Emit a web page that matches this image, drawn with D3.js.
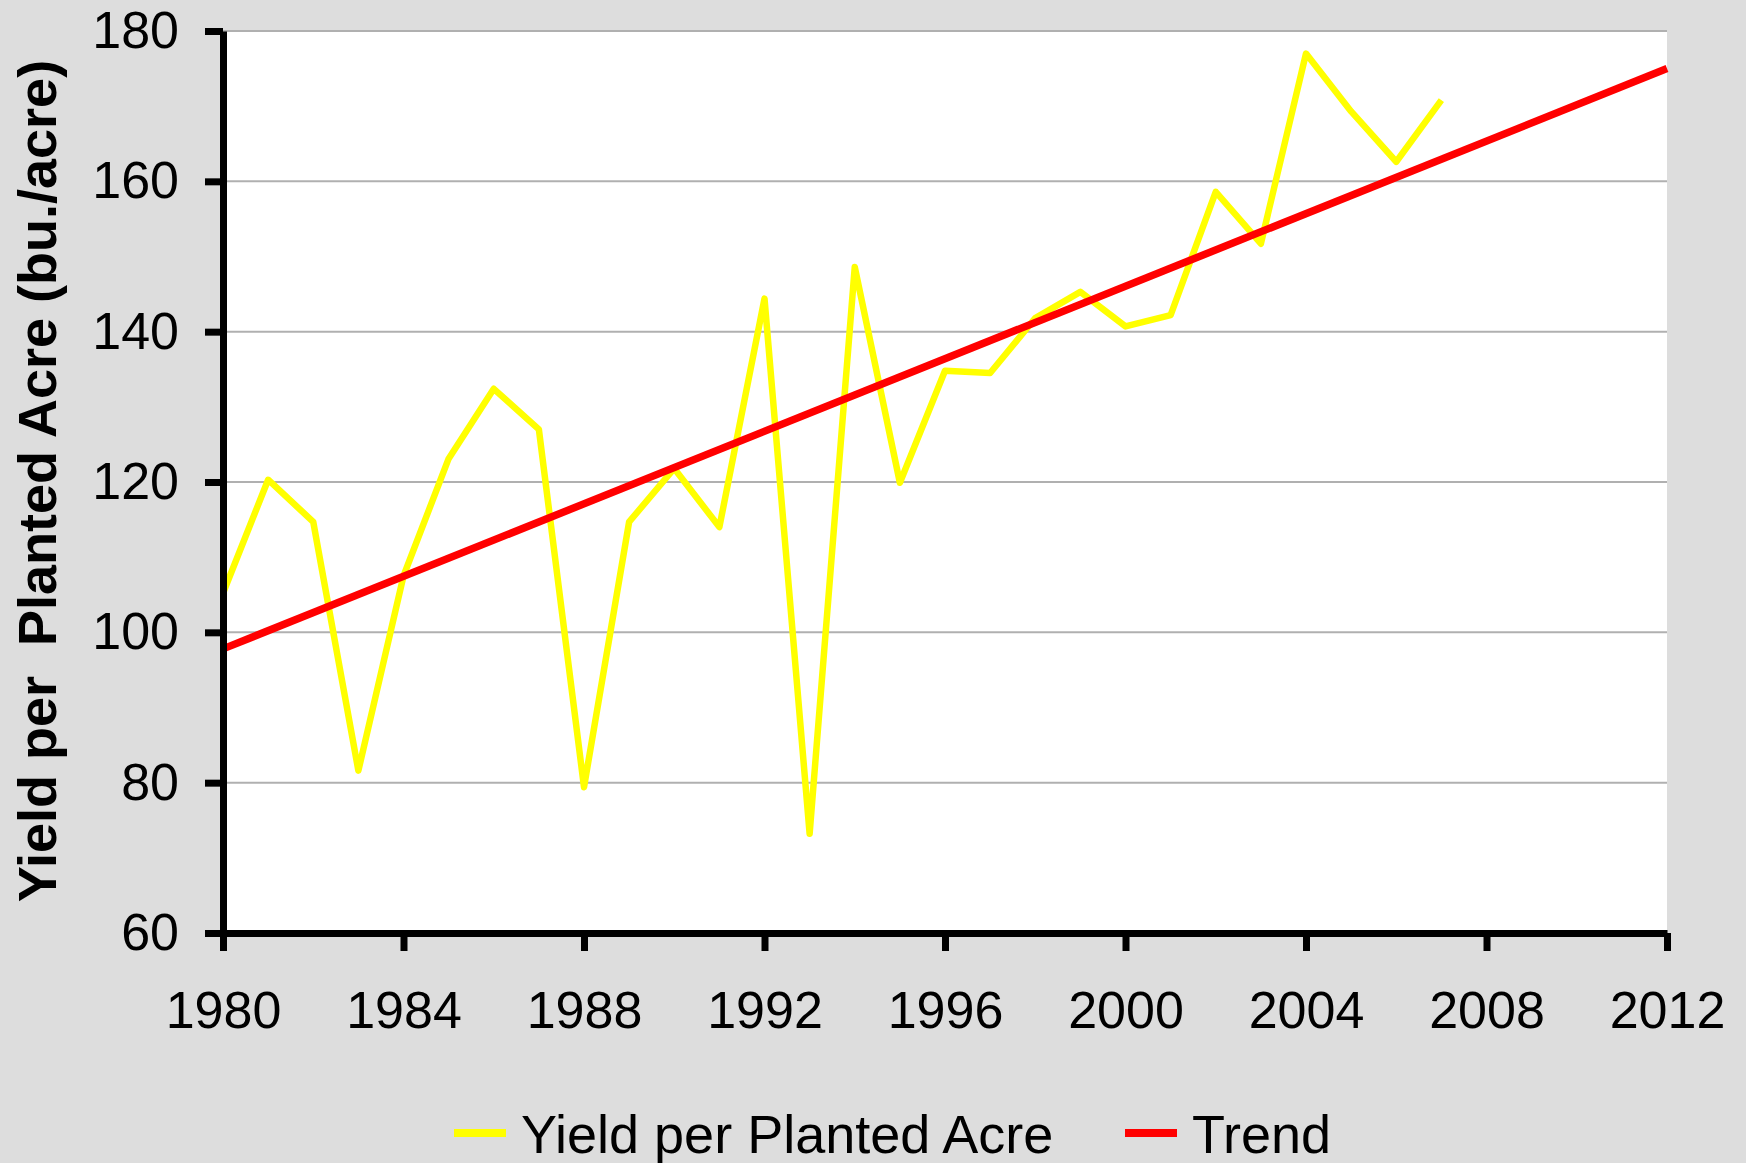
<!DOCTYPE html>
<html>
<head>
<meta charset="utf-8">
<script src="https://cdn.jsdelivr.net/npm/d3@7"></script>
<style>
  body { margin: 0; background: #dddddd; }
  svg { display: block; }
</style>
</head>
<body>
<script>
// yield per planted acre
var years = [1980, 1981, 1982, 1983, 1984, 1985, 1986, 1987, 1988, 1989,
             1990, 1991, 1992, 1993, 1994, 1995, 1996, 1997, 1998, 1999,
             2000, 2001, 2002, 2003, 2004, 2005, 2006, 2007];
var yieldValues = [105.2, 120.3, 114.7, 81.6, 107.5, 123.1, 132.4, 127.0, 79.4, 114.7,
                   121.8, 114.0, 144.4, 73.2, 148.6, 119.9, 134.8, 134.5, 141.8, 145.3,
                   140.7, 142.2, 158.6, 151.7, 177.0, 169.3, 162.6, 170.8];

// trend line end points
var trendYears = [1980, 2012];
var trendValues = [97.8, 175.0];

var xTicks = [1980, 1984, 1988, 1992, 1996, 2000, 2004, 2008, 2012];
var yTicks = [60, 80, 100, 120, 140, 160, 180];

var seriesNames = ["Yield per Planted Acre", "Trend"];
var seriesColors = ["#ffff00", "#ff0000"];

var w = 1746;
var h = 1163;
var plotLeft = 223, plotRight = 1667, plotTop = 31, plotBottom = 933;
var font = "'Liberation Sans', Arial, sans-serif";

var svg = d3.select("body")
            .append("svg")
            .attr("width", w)
            .attr("height", h);

svg.append("rect")
   .attr("width", w)
   .attr("height", h)
   .attr("fill", "#dddddd");

var xScale = d3.scaleLinear()
               .domain([1980, 2012])
               .range([plotLeft, plotRight]);

var yScale = d3.scaleLinear()
               .domain([60, 180])
               .range([plotBottom, plotTop]);

// plot area
svg.append("rect")
   .attr("x", plotLeft)
   .attr("y", plotTop)
   .attr("width", plotRight - plotLeft)
   .attr("height", plotBottom - plotTop)
   .attr("fill", "#ffffff");

// gridlines
svg.append("g")
   .selectAll("line")
   .data(yTicks)
   .enter()
 .append("line")
   .attr("x1", plotLeft)
   .attr("x2", plotRight)
   .attr("y1", function(d) { return yScale(d); })
   .attr("y2", function(d) { return yScale(d); })
   .attr("stroke", "#b0b0b0")
   .attr("stroke-width", 2);

var yieldLine = d3.line()
                  .x(function(d, i) { return xScale(years[i]); })
                  .y(function(d) { return yScale(d); });

var trendLine = d3.line()
                  .x(function(d, i) { return xScale(trendYears[i]); })
                  .y(function(d) { return yScale(d); });

svg.append("path")
   .datum(yieldValues)
   .attr("d", yieldLine)
   .attr("fill", "none")
   .attr("stroke", seriesColors[0])
   .attr("stroke-width", 6.5)
   .attr("stroke-linejoin", "round");

svg.append("path")
   .datum(trendValues)
   .attr("d", trendLine)
   .attr("fill", "none")
   .attr("stroke", seriesColors[1])
   .attr("stroke-width", 7.5);

// axes
var y_axis = d3.axisLeft(yScale)
               .tickValues(yTicks)
               .tickSize(18)
               .tickSizeOuter(0)
               .tickPadding(26)
               .tickFormat(d3.format("d"));

var x_axis = d3.axisBottom(xScale)
               .tickValues(xTicks)
               .tickSize(18)
               .tickSizeOuter(0)
               .tickPadding(40)
               .tickFormat(d3.format("d"));

var gy = svg.append("g")
            .attr("transform", "translate(" + plotLeft + ",0)")
            .call(y_axis);

var gx = svg.append("g")
            .attr("transform", "translate(0," + plotBottom + ")")
            .call(x_axis);

[gx, gy].forEach(function(g) {
  g.select(".domain").attr("stroke", "#000").attr("stroke-width", 7);
  g.selectAll(".tick line").attr("stroke", "#000").attr("stroke-width", 7);
  g.selectAll(".tick text")
   .attr("fill", "#000")
   .style("font-size", "52px")
   .style("font-family", font);
});

// y axis title
svg.append("text")
   .attr("transform", "translate(56,481) rotate(-90)")
   .attr("text-anchor", "middle")
   .attr("font-weight", "bold")
   .style("font-size", "54px")
   .style("font-family", font)
   .style("white-space", "pre")
   .attr("xml:space", "preserve")
   .text("Yield per  Planted Acre (bu./acre)");

// legend
var legendX = [454, 1125];
var legend = svg.append("g");
seriesNames.forEach(function(name, i) {
  legend.append("line")
        .attr("x1", legendX[i])
        .attr("x2", legendX[i] + 52)
        .attr("y1", 1133)
        .attr("y2", 1133)
        .attr("stroke", seriesColors[i])
        .attr("stroke-width", 8);
  legend.append("text")
        .attr("x", legendX[i] + 67)
        .attr("y", 1153)
        .style("font-size", "54px")
        .style("font-family", font)
        .text(name);
});
</script>
</body>
</html>
